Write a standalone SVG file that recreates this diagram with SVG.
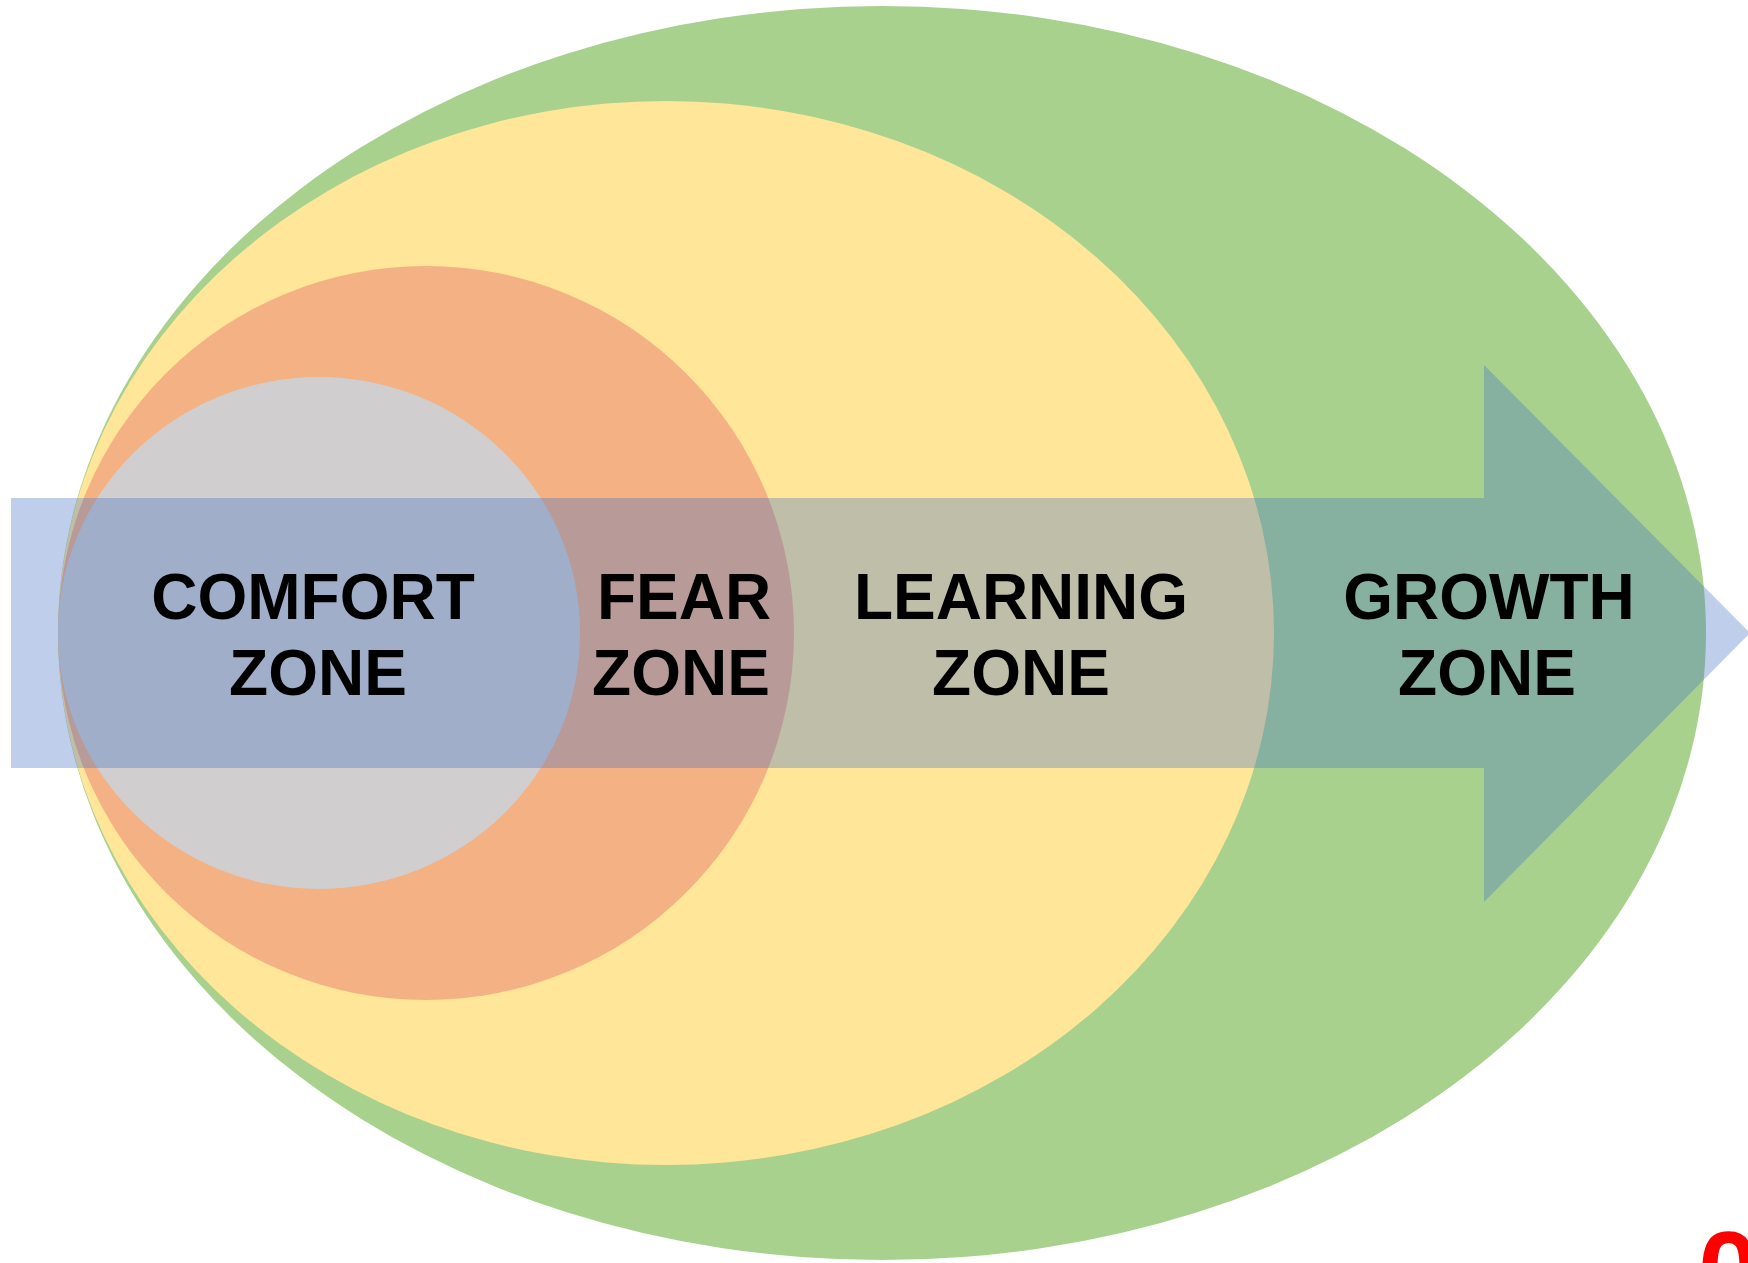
<svg xmlns="http://www.w3.org/2000/svg" width="1748" height="1263" viewBox="0 0 1748 1263">
  <style>
    .lbl { font-family: "Liberation Sans", Arial, sans-serif; font-weight: bold; font-size: 64px; fill: #000000; text-anchor: middle; }
    .mark { font-family: "Liberation Sans", Arial, sans-serif; font-weight: bold; font-size: 110px; fill: #ff0000; }
  </style>
  <rect width="1748" height="1263" fill="#ffffff"/>
  <g id="growth-zone">
    <ellipse cx="882" cy="633" rx="824" ry="627" fill="#a9d18e"/>
  </g>
  <g id="learning-zone">
    <ellipse cx="666" cy="633" rx="608" ry="532" fill="#ffe699"/>
  </g>
  <g id="fear-zone">
    <ellipse cx="426" cy="633" rx="368" ry="367" fill="#f4b183"/>
  </g>
  <g id="comfort-zone">
    <ellipse cx="319" cy="633" rx="261" ry="256" fill="#d0cece"/>
  </g>
  <g id="connectors">
    <polygon points="11,498 1484,498 1484,365 1750,633 1484,902 1484,768 11,768" fill="#4472c4" fill-opacity="0.34"/>
  </g>
  <g id="labels">
    <text class="lbl" x="313" y="619">COMFORT</text>
    <text class="lbl" x="318" y="695">ZONE</text>
    <text class="lbl" x="684" y="619">FEAR</text>
    <text class="lbl" x="681" y="695">ZONE</text>
    <text class="lbl" x="1021" y="619">LEARNING</text>
    <text class="lbl" x="1021" y="695">ZONE</text>
    <text class="lbl" x="1489" y="619">GROWTH</text>
    <text class="lbl" x="1487" y="695">ZONE</text>
  </g>
  <text class="mark" x="1698" y="1308">0</text>
</svg>
